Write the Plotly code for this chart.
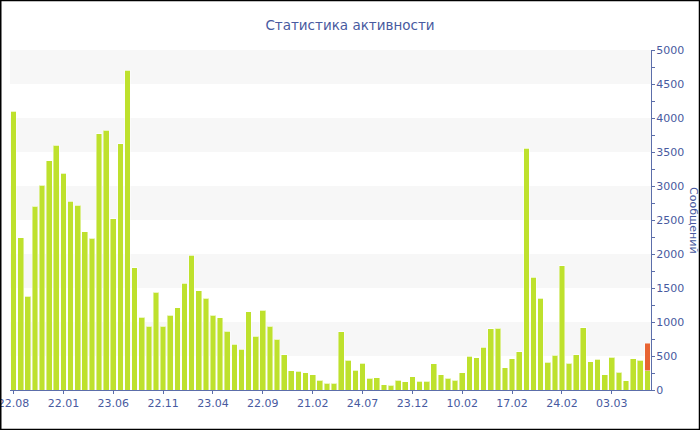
import plotly.graph_objects as go

# --- data ---
bar_index = list(range(90))
main_values = [
    4100, 2240, 1380, 2700, 3010, 3370, 3600, 3190, 2775, 2715,
    2330, 2235, 3770, 3820, 2515, 3620, 4700, 1800, 1070, 936,
    1436, 936, 1098, 1211, 1569, 1985, 1456, 1348, 1103, 1059,
    863, 676, 598, 1152, 789, 1176, 941, 750, 515, 284,
    275, 255, 221, 147, 98, 98, 858, 441, 294, 397,
    176, 181, 74, 69, 142, 123, 196, 132, 132, 387,
    221, 176, 147, 255, 495, 476, 632, 902, 907, 328,
    456, 564, 3554, 1657, 1348, 407, 510, 1828, 392, 515,
    917, 412, 451, 221, 480, 260, 137, 461, 440, 284,
]
extra_values = [0] * 89 + [400]
tick_positions = [0, 7, 14, 21, 28, 35, 42, 49, 56, 63, 70, 77, 84]
tick_labels = ["22.08", "22.01", "23.06", "22.11", "23.04", "22.09", "21.02",
               "24.07", "23.12", "10.02", "17.02", "24.02", "03.03"]
y_ticks = [0, 500, 1000, 1500, 2000, 2500, 3000, 3500, 4000, 4500, 5000]

title_text = "Статистика активности"
y_title = "Сообщений"

axis_color = "rgb(92,110,170)"
text_color = "rgb(72,90,160)"
green = "rgb(190,225,45)"
orange = "rgb(232,100,50)"

fig = go.Figure()
fig.add_trace(go.Bar(
    x=bar_index, y=main_values, marker=dict(color=green,
    line=dict(color="rgba(255,255,255,0.45)", width=1)), showlegend=False))
fig.add_trace(go.Bar(
    x=bar_index, y=extra_values, marker=dict(color=orange,
    line=dict(color="rgba(255,255,255,0.45)", width=1)), showlegend=False))

shapes = []
for lo in range(500, 5000, 1000):
    shapes.append(dict(type="rect", xref="paper", yref="y", x0=0, x1=1,
                       y0=lo, y1=lo + 500, fillcolor="#f7f7f7",
                       line=dict(width=0), layer="below"))

W, H = 700, 430
ml, mr, mt, mb = 10, 49, 50, 40
pw, ph = W - ml - mr, H - mt - mb
def px(xp):
    return (xp - ml) / pw
def py(yp):
    return (H - mb - yp) / ph

shapes.append(dict(type="rect", xref="paper", yref="paper",
                   x0=px(0.75), x1=px(699.5), y0=py(429.5), y1=py(0.5),
                   line=dict(color="black", width=1.5), fillcolor="rgba(0,0,0,0)",
                   layer="above"))

fig.update_layout(
    width=W, height=H,
    margin=dict(l=ml, r=mr, t=mt, b=mb, autoexpand=False),
    paper_bgcolor="white", plot_bgcolor="white",
    barmode="stack", bargap=0.2,
    font=dict(family="DejaVu Sans", size=11, color=text_color),
    title=dict(text=title_text, x=0.5, xref="container", xanchor="center",
               y=1 - 25 / H, yanchor="middle",
               font=dict(size=13.5, color=text_color)),
    shapes=shapes,
    annotations=[dict(text=y_title, textangle=90, xref="paper", yref="paper",
                      x=px(694), y=0.5, xanchor="center", yanchor="middle",
                      showarrow=False, font=dict(size=11, color=text_color))],
    xaxis=dict(range=[-0.5, 89.5], tickmode="array", tickvals=tick_positions,
               ticktext=tick_labels, showgrid=False, zeroline=False,
               showline=True, linecolor=axis_color, linewidth=1,
               ticks="outside", ticklen=3, tickcolor=axis_color, automargin=False,
               ticklabeloverflow="allow",
               tickfont=dict(size=11, color=text_color)),
    yaxis=dict(side="right", range=[0, 5000], tickmode="array", tickvals=y_ticks,
               showgrid=False, zeroline=False, showline=True, automargin=False,
               ticklabeloverflow="allow", ticklabelstandoff=-1,
               linecolor=axis_color, linewidth=1, ticks="outside", ticklen=3,
               tickcolor=axis_color, tickfont=dict(size=11, color=text_color),
               minor=dict(dtick=250, ticks="outside", ticklen=3,
                          tickcolor=axis_color, showgrid=False)),
)

fig.write_html("out.html", config={"displayModeBar": False},
               post_script="document.body.style.margin='0';document.body.style.overflow='hidden';")
